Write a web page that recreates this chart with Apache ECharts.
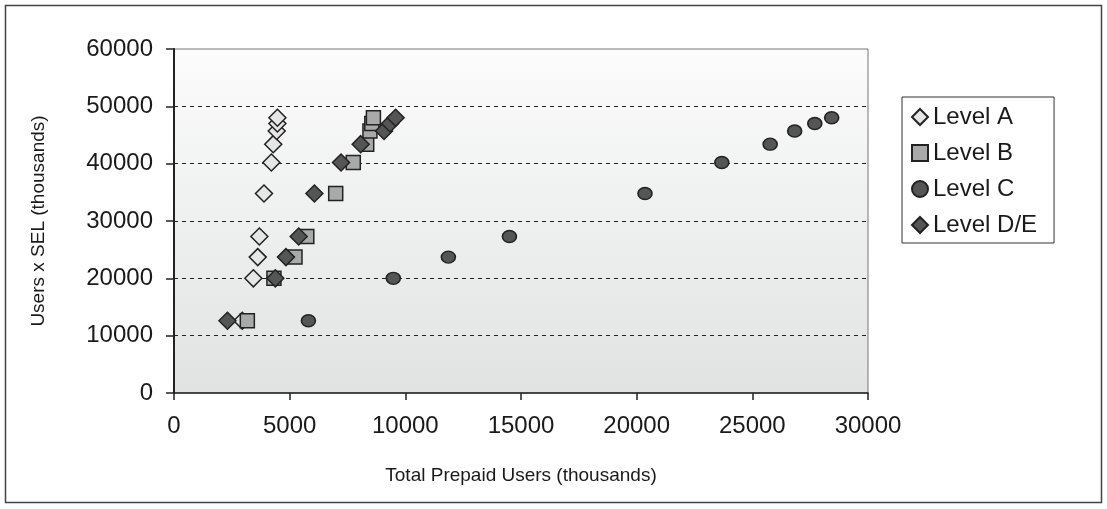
<!DOCTYPE html>
<html>
<head>
<meta charset="utf-8">
<script src="https://cdn.jsdelivr.net/npm/echarts@6/dist/echarts.min.js"></script>
<style>
  html, body { margin: 0; padding: 0; background: #ffffff; }
  #chart { width: 1107px; height: 509px; }
</style>
</head>
<body>
<div id="chart"></div>
<script>
// Users x SEL (thousands) for each of the ten steps
const selLevels = [12600, 20000, 23700, 27300, 34800, 40200, 43400, 45700, 47000, 48000];

// Total prepaid users (thousands) for each level, same order as selLevels
const levelA = [2950, 3430, 3620, 3690, 3890, 4210, 4290, 4440, 4470, 4470];
const levelB = [3170, 4320, 5230, 5740, 6990, 7750, 8330, 8470, 8550, 8620];
const levelC = [5810, 9480, 11860, 14500, 20360, 23680, 25770, 26830, 27700, 28430];
const levelDE = [2310, 4380, 4840, 5390, 6070, 7220, 8070, 9080, 9340, 9580];

const seriesNames = ['Level A', 'Level B', 'Level C', 'Level D/E'];
const xTicks = { min: 0, max: 30000, interval: 5000 };
const yTicks = { min: 0, max: 60000, interval: 10000 };

const pairs = xs => xs.map((x, i) => [x, selLevels[i]]);

const chart = echarts.init(document.getElementById('chart'), null, { renderer: 'canvas' });

const font = 'Liberation Sans, Arial, sans-serif';
const plain = v => String(v);

const markerStyle = (fill) => ({
  color: fill,
  borderColor: '#222222',
  borderWidth: 1.5,
  opacity: 1
});

chart.setOption({
  animation: false,
  backgroundColor: '#ffffff',
  textStyle: { fontFamily: font },
  graphic: [{
    type: 'rect',
    z: -10,
    shape: { x: 5.5, y: 5.5, width: 1096, height: 497 },
    style: { fill: 'none', stroke: '#444444', lineWidth: 1.5 }
  }],
  grid: {
    left: 174, right: 239, top: 49, bottom: 116,
    show: true,
    borderColor: '#777777',
    borderWidth: 1,
    backgroundColor: new echarts.graphic.LinearGradient(0, 0, 0, 1, [
      { offset: 0, color: '#fcfcfc' },
      { offset: 1, color: '#e1e2e2' }
    ])
  },
  legend: {
    orient: 'vertical',
    left: 902, top: 97,
    padding: [8, 17, 6, 9],
    itemGap: 12,
    itemWidth: 16, itemHeight: 16,
    borderColor: '#333333', borderWidth: 1,
    backgroundColor: '#ffffff',
    textStyle: { fontSize: 24, color: '#1a1a1a', fontFamily: font, lineHeight: 24 },
    data: seriesNames
  },
  xAxis: {
    type: 'value',
    min: xTicks.min, max: xTicks.max, interval: xTicks.interval,
    name: 'Total Prepaid Users (thousands)',
    nameLocation: 'middle',
    nameGap: 73,
    nameTextStyle: { fontSize: 19, color: '#1a1a1a', fontFamily: font },
    axisLine: { show: true, onZero: false, lineStyle: { color: '#222222', width: 1.5 } },
    axisTick: { show: true, length: 7, lineStyle: { color: '#222222', width: 1.5 } },
    axisLabel: { fontSize: 24, color: '#1a1a1a', margin: 21, fontFamily: font, formatter: plain },
    splitLine: { show: false }
  },
  yAxis: {
    type: 'value',
    min: yTicks.min, max: yTicks.max, interval: yTicks.interval,
    name: 'Users x SEL (thousands)',
    nameLocation: 'middle',
    nameGap: 126,
    nameTextStyle: { fontSize: 19, color: '#1a1a1a', fontFamily: font },
    axisLine: { show: true, onZero: false, lineStyle: { color: '#222222', width: 2 } },
    axisTick: { show: true, length: 8, lineStyle: { color: '#222222', width: 1.5 } },
    axisLabel: { fontSize: 24, color: '#1a1a1a', margin: 21, fontFamily: font, formatter: plain },
    splitLine: {
      show: true, showMinLine: false, showMaxLine: false,
      lineStyle: { color: '#222222', type: [4, 4], width: 1 }
    }
  },
  series: [
    { name: seriesNames[0], type: 'scatter', symbol: 'diamond', symbolSize: 17,
      itemStyle: markerStyle('#e6e6e6'), data: pairs(levelA), z: 2 },
    { name: seriesNames[1], type: 'scatter', symbol: 'rect', symbolSize: 14,
      itemStyle: markerStyle('#a9a9a9'), data: pairs(levelB), z: 3 },
    { name: seriesNames[2], type: 'scatter', symbol: 'circle', symbolSize: [14, 12],
      itemStyle: markerStyle('#555555'), data: pairs(levelC), z: 4 },
    { name: seriesNames[3], type: 'scatter', symbol: 'diamond', symbolSize: 17,
      itemStyle: markerStyle('#555555'), data: pairs(levelDE), z: 5 }
  ]
});
</script>
</body>
</html>
